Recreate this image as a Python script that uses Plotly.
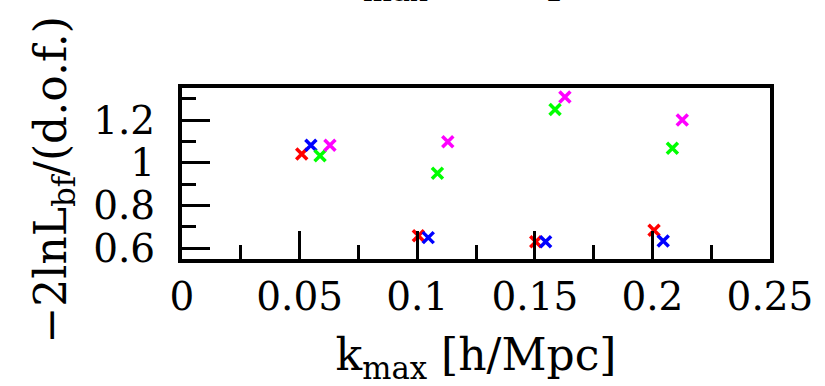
import plotly.graph_objects as go

# k_max bins with small horizontal offsets per series
x_red = [0.0509, 0.1005, 0.1504, 0.2007]
y_red = [1.041, 0.659, 0.631, 0.685]
x_blue = [0.0548, 0.1047, 0.1546, 0.2046]
y_blue = [1.082, 0.650, 0.631, 0.634]
x_green = [0.0587, 0.1086, 0.1586, 0.2085]
y_green = [1.033, 0.951, 1.249, 1.068]
x_magenta = [0.0629, 0.1130, 0.1628, 0.2127]
y_magenta = [1.082, 1.098, 1.308, 1.200]

series = [
    (x_red, y_red, "#ff0000"),
    (x_blue, y_blue, "#0000ff"),
    (x_green, y_green, "#00ff00"),
    (x_magenta, y_magenta, "#ff00ff"),
]

FONT = "DejaVu Serif"
TICK_SIZE = 39
XTITLE_SIZE = 44
YTITLE_SIZE = 44

fig = go.Figure()
for xs, ys, col in series:
    fig.add_trace(go.Scatter(
        x=xs, y=ys, mode="markers",
        marker=dict(symbol="x-thin", size=11, line=dict(color=col, width=3.5)),
        showlegend=False, cliponaxis=False,
    ))

fig.update_layout(
    width=825, height=386,
    margin=dict(l=182, r=55, t=88, b=125),
    paper_bgcolor="white", plot_bgcolor="white",
    font=dict(family=FONT, size=TICK_SIZE, color="black"),
)
fig.update_xaxes(
    range=[0, 0.25], dtick=0.05, tick0=0,
    showline=True, linecolor="black", linewidth=4, mirror=True,
    ticks="inside", ticklen=28, tickwidth=3, tickcolor="black",
    minor=dict(dtick=0.025, ticks="inside", ticklen=14, tickwidth=3, tickcolor="black"),
    showgrid=False, zeroline=False,
    tickfont=dict(family=FONT, size=TICK_SIZE),
    title=dict(text="k<sub>max</sub> [h/Mpc]", font=dict(family=FONT, size=XTITLE_SIZE), standoff=24),
)
fig.update_yaxes(
    range=[0.55, 1.35], dtick=0.2, tick0=0.6,
    showline=True, linecolor="black", linewidth=4, mirror=True,
    ticks="inside", ticklen=28, tickwidth=3, tickcolor="black",
    minor=dict(dtick=0.1, ticks="inside", ticklen=14, tickwidth=3, tickcolor="black"),
    showgrid=False, zeroline=False,
    tickfont=dict(family=FONT, size=TICK_SIZE),
    ticklabelstandoff=15,
)
# y-axis title (as rotated annotation for exact placement)
fig.add_annotation(
    text="\u22122lnL<sub>bf</sub>/(d.o.f.)", textangle=-90,
    xref="paper", yref="paper", x=0, y=0.5, xanchor="center", yanchor="middle",
    xshift=-129, yshift=-7, showarrow=False,
    font=dict(family=FONT, size=YTITLE_SIZE, color="black"),
)
# partially visible axis label of the panel above (only its lower edge shows)
fig.add_annotation(
    text="k<sub>max</sub> [h/Mpc]", xref="paper", yref="paper",
    x=0.5, xanchor="center", y=1.0, yshift=78, yanchor="bottom", showarrow=False,
    font=dict(family=FONT, size=XTITLE_SIZE, color="black"),
)

fig.write_html("out.html")
